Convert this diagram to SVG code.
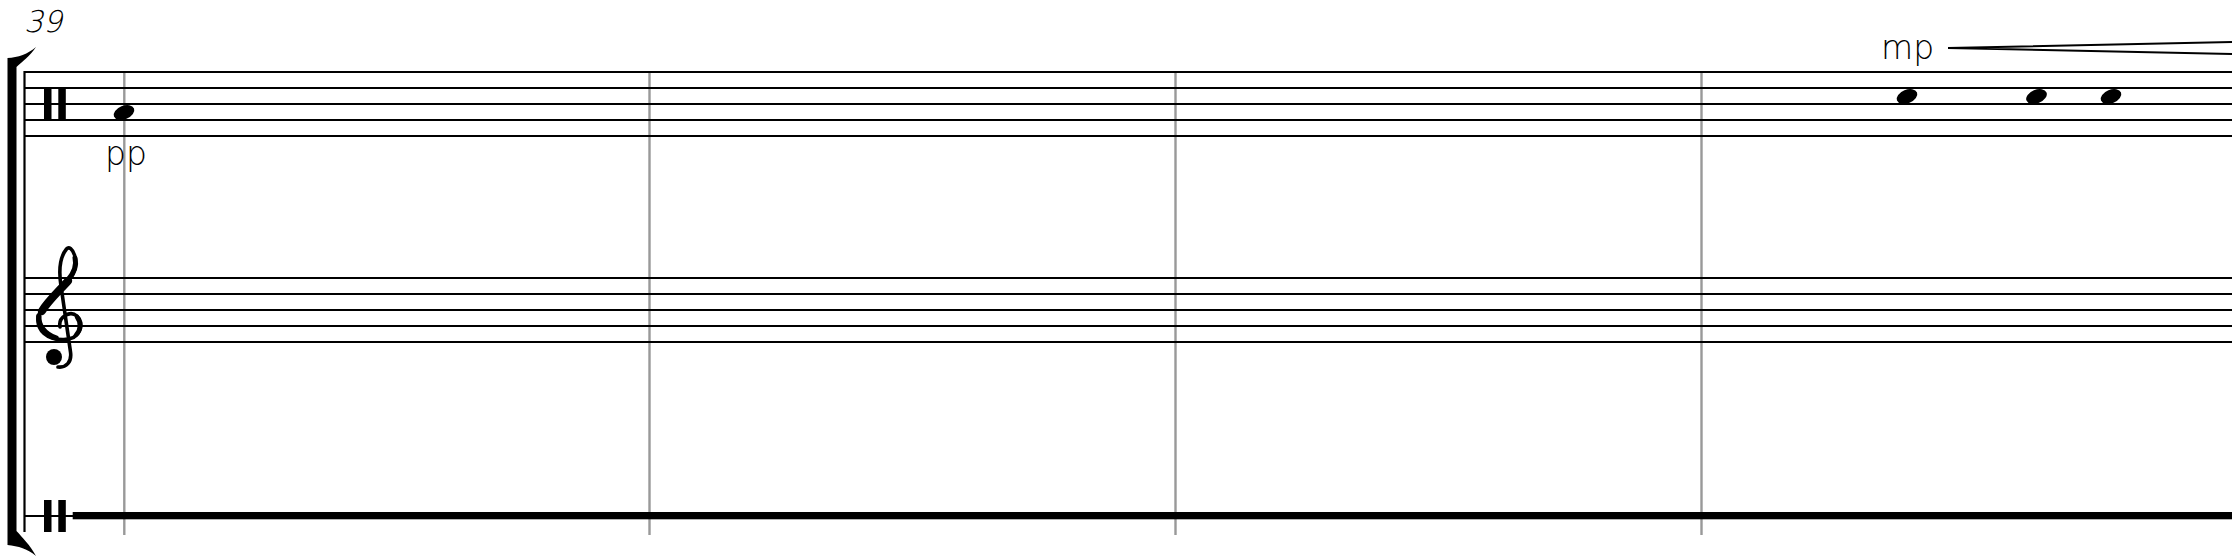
<svg xmlns="http://www.w3.org/2000/svg" width="2235" height="557" viewBox="0 0 2235 557">
<style>
.staff{stroke:#000;stroke-width:1.8;fill:none}
.bar{stroke:#999;stroke-width:2.4}
.txt{font-family:"DejaVu Sans","Liberation Sans",sans-serif;font-weight:200;font-size:33px;fill:#000}
.head{fill:#000}
</style>
<defs>
<ellipse id="nh" cx="0" cy="0" rx="10.8" ry="6.8" transform="rotate(-22)"/>
</defs>
<rect width="2235" height="557" fill="#fff"/>
<g id="measure-number"><text class="txt" transform="translate(24 31.5) skewX(-14)" x="0" y="0" style="font-size:30px">39</text></g>
<g id="bracket">
<path d="M7.5 58 C18 57.5 28 54 36 47 C30 56 22 62 16.5 67 L16.5 531 C22 537 30 545 36 556 C28 549 18 546 7.5 545 Z" fill="#000"/>
<line x1="24.5" y1="71" x2="24.5" y2="532" stroke="#000" stroke-width="2.2"/>
</g>
<g id="barlines">
<line class="bar" x1="124.3" y1="72" x2="124.3" y2="535"/>
<line class="bar" x1="649.5" y1="72" x2="649.5" y2="535"/>
<line class="bar" x1="1175.5" y1="72" x2="1175.5" y2="535"/>
<line class="bar" x1="1701.5" y1="72" x2="1701.5" y2="535"/>
</g>
<g id="staff1">
<path class="staff" d="M24 72H2232M24 88H2232M24 104H2232M24 120H2232M24 136H2232"/>
<rect x="44" y="88" width="7.5" height="32" fill="#000"/>
<rect x="58.3" y="88" width="7.5" height="32" fill="#000"/>
<use href="#nh" x="124" y="112.5" class="head"/>
<use href="#nh" x="1907" y="96.5" class="head"/>
<use href="#nh" x="2036.5" y="96.5" class="head"/>
<use href="#nh" x="2111" y="96.5" class="head"/>
<text class="txt" x="105" y="165">pp</text>
<text class="txt" x="1881" y="59">mp</text>
<path d="M1948 48 L2232 42 M1948 48 L2232 54" stroke="#000" stroke-width="2" fill="none"/>
</g>
<g id="staff2">
<path class="staff" d="M24 278H2232M24 294H2232M24 310H2232M24 326H2232M24 342H2232"/>
<g id="treble-clef" fill="none" stroke="#000" stroke-linecap="round">
<path d="M60 327 C58 317 70 310 77 316 C85 323 81 339 64 339.5 C47 340 36 330 38.5 317 C41 304 56 293 66 283 C74 275 78 265 74.5 255 C72.5 249 69 246 66.5 249 C60 257 58.5 270 61 286 L70.5 352 C72 362 66 368 58 367" stroke-width="3.6"/>
<path d="M42 311 C48 301 58 292 68 281" stroke-width="8"/>
<path d="M38.8 316 C38 325 44 334 56 338" stroke-width="5.5"/>
<path d="M75 258 C77 266 74 273 68 280" stroke-width="5"/>
<path d="M77 317 C81 322 81 330 76 335" stroke-width="4.5"/>
<circle cx="54" cy="357" r="8" fill="#000" stroke="none"/>
</g>
</g>
<g id="staff3">
<line x1="24" y1="516" x2="73" y2="516" stroke="#000" stroke-width="1.8"/>
<rect x="72.7" y="512" width="2159.3" height="7.3" fill="#000"/>
<rect x="44" y="500" width="7.5" height="32" fill="#000"/>
<rect x="58.3" y="500" width="7.5" height="32" fill="#000"/>
</g>
</svg>
